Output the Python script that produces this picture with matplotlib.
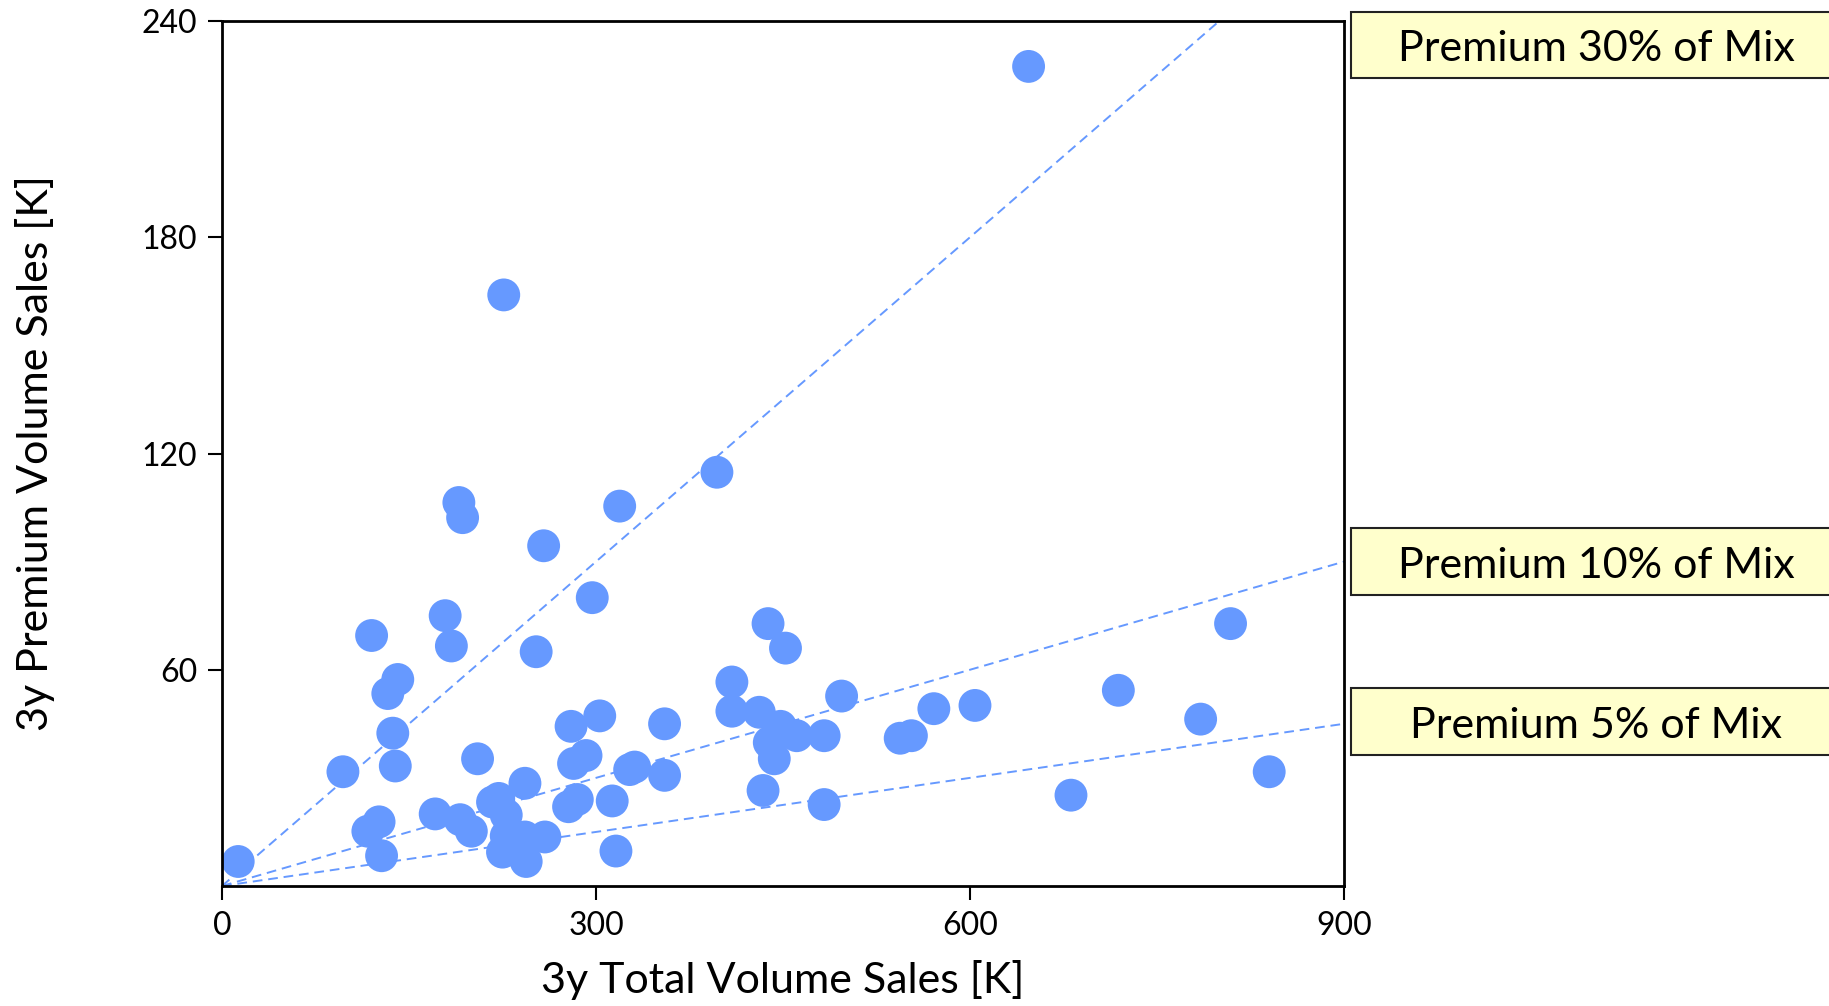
import numpy as np
import matplotlib
matplotlib.use("Agg")
import matplotlib.pyplot as plt
from matplotlib.patches import Rectangle

plt.rcParams['font.family'] = ['Lato', 'DejaVu Sans']

# 3y total volume [K] vs 3y premium volume [K]
total = [13, 97, 120, 133, 141, 137, 139, 117, 126, 128,
         179, 184, 190, 193, 226, 171, 191, 200, 205, 217,
         222, 228, 228, 225, 243, 243, 244, 259, 252, 258,
         278, 285, 280, 282, 292, 297, 303, 313, 316, 319,
         327, 331, 355, 355, 397, 409, 409, 431, 434, 438,
         439, 443, 448, 452, 461, 483, 483, 497, 544, 553,
         571, 604, 681, 719, 785, 809, 840, 647]
premium = [6.8, 31.7, 69.5, 53.4, 57.3, 42.4, 33.3, 15.2, 17.8, 8.4,
           75.0, 66.6, 106.4, 102.2, 164.0, 20.0, 18.4, 15.2, 35.3, 23.3,
           24.3, 19.7, 13.9, 9.4, 28.5, 13.6, 6.8, 13.6, 65.0, 94.4,
           22.0, 24.0, 44.3, 34.0, 36.2, 80.0, 47.2, 23.6, 9.7, 105.4,
           32.3, 33.0, 45.0, 30.7, 114.8, 56.6, 48.5, 48.2, 26.5, 72.8,
           39.8, 35.3, 44.3, 66.0, 41.7, 41.7, 22.6, 52.7, 41.0, 41.7,
           49.2, 50.1, 25.2, 54.3, 46.3, 72.8, 31.7, 227.4]

mix_rates = [0.30, 0.10, 0.05]
mix_labels = ['Premium 30% of Mix', 'Premium 10% of Mix', 'Premium 5% of Mix']

blue = '#6699ff'
W, H = 1829, 1006

fig = plt.figure(figsize=(W / 100, H / 100), dpi=100)
ax = fig.add_axes([222 / W, 1 - 886 / H, (1344 - 222) / W, (886 - 21) / H])

xs = np.array([0, 900])
for r in mix_rates:
    ax.plot(xs, r * xs, ls=(0, (5, 3)), color=blue, lw=1.4, zorder=1)

ax.scatter(total, premium, s=560, color=blue, edgecolors='none', zorder=2)

ax.set_xlim(0, 900)
ax.set_ylim(0, 240)
ax.set_xticks([0, 300, 600, 900])
ax.set_yticks([60, 120, 180, 240])
ax.tick_params(direction='out', length=10, width=1.5, labelsize=23, pad=8)
for s in ax.spines.values():
    s.set_linewidth(2)
ax.set_xlabel('3y Total Volume Sales [K]', fontsize=31, labelpad=14)
ax.set_ylabel('3y Premium Volume Sales [K]', fontsize=31, labelpad=62)

# label boxes to the right of the plot
box_y = [(12, 78), (528, 595), (688, 755)]
for (y0, y1), lab in zip(box_y, mix_labels):
    fig.patches.append(Rectangle((1351 / W, 1 - y1 / H), (1840 - 1351) / W, (y1 - y0) / H,
                                 transform=fig.transFigure, facecolor='#ffffcc',
                                 edgecolor='#222222', lw=1.5))
    fig.text(1596 / W, 1 - ((y0 + y1) / 2 + 4) / H, lab, ha='center', va='center', fontsize=31)

fig.savefig('out.png', dpi=100)
